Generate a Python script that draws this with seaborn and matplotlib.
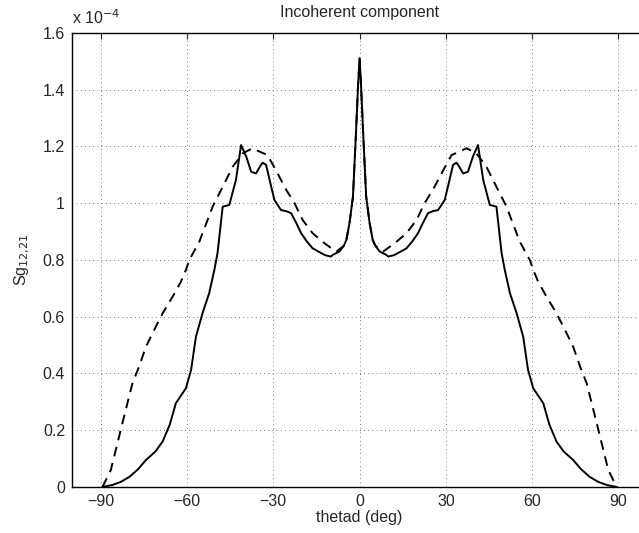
import numpy as np
import pandas as pd
import matplotlib
matplotlib.use("Agg")
import matplotlib.pyplot as plt
import seaborn as sns

# scattering angle (deg) and incoherent component (units of 1e-4)
theta_solid = [-89.5, -86, -83, -80, -77, -74.3, -71, -68.5, -66, -63.9, -60.4, -58.6,
               -56.9, -54.6, -52.3, -50.5, -49.4, -47.6, -45.3, -43.0, -41.2, -39.4,
               -37.7, -36.0, -34.6, -33.7, -32.5, -31, -29.6, -27.3, -25.5, -23.8, -22,
               -20.3, -18.3, -16.3, -14, -12, -10, -9.3, -7, -5.5, -4.6, -3.5, -2.3,
               -1.2, -0.5, 0, 0.5, 1.2, 2.3, 3.5, 4.6, 5.5, 7, 9.3, 10, 12, 14, 16.3,
               18.3, 20.3, 22, 23.8, 25.5, 27.3, 29.6, 31, 32.5, 33.7, 34.6, 36.0, 37.7,
               39.4, 41.2, 43.0, 45.3, 47.6, 49.4, 50.5, 52.3, 54.6, 56.9, 58.6, 60.4,
               63.9, 66, 68.5, 71, 74.3, 77, 80, 83, 86, 89.5]
sigma_solid = [0.0, 0.007, 0.018, 0.036, 0.063, 0.095, 0.125, 0.16, 0.22, 0.295, 0.348,
               0.412, 0.53, 0.613, 0.683, 0.765, 0.824, 0.988, 0.994, 1.082, 1.205, 1.164,
               1.111, 1.105, 1.13, 1.143, 1.135, 1.07, 1.011, 0.976, 0.972, 0.965, 0.93,
               0.894, 0.865, 0.841, 0.828, 0.817, 0.812, 0.818, 0.83, 0.85, 0.870, 0.93,
               1.023, 1.258, 1.42, 1.511, 1.42, 1.258, 1.023, 0.93, 0.870, 0.85, 0.83,
               0.818, 0.812, 0.817, 0.828, 0.841, 0.865, 0.894, 0.93, 0.965, 0.972, 0.976,
               1.011, 1.07, 1.135, 1.143, 1.13, 1.105, 1.111, 1.164, 1.205, 1.082, 0.994,
               0.988, 0.824, 0.765, 0.683, 0.613, 0.53, 0.412, 0.348, 0.295, 0.22, 0.16,
               0.125, 0.095, 0.063, 0.036, 0.018, 0.007, 0.0]

theta_dash = [-89.4, -86.5, -82.5, -79, -76.7, -74.3, -72, -68.5, -65, -62.1, -60.4,
              -59.2, -55.7, -51.1, -47.6, -44.1, -40.6, -37.2, -34.8, -32, -28.5, -25.5,
              -22.6, -19.8, -16.3, -12.2, -8.1, -5.5, -4.6, -3.5, -2.3, -1.2, -0.5, 0,
              0.5, 1.2, 2.3, 3.5, 4.6, 5.5, 8.1, 12.2, 16.3, 19.8, 22.6, 25.5, 28.5, 32,
              34.8, 37.2, 40.6, 44.1, 47.6, 51.1, 55.7, 59.2, 60.4, 62.1, 65, 68.5, 72,
              74.3, 76.7, 79, 82.5, 86.5, 89.4]
sigma_dash = [0.0, 0.06, 0.224, 0.365, 0.424, 0.494, 0.542, 0.612, 0.671, 0.724, 0.765,
              0.8, 0.865, 0.988, 1.058, 1.129, 1.176, 1.194, 1.182, 1.17, 1.105, 1.047,
              1.0, 0.941, 0.894, 0.859, 0.829, 0.85, 0.870, 0.93, 1.023, 1.258, 1.42, 1.511,
              1.42, 1.258, 1.023, 0.93, 0.870, 0.85, 0.829, 0.859, 0.894, 0.941, 1.0,
              1.047, 1.105, 1.17, 1.182, 1.194, 1.176, 1.129, 1.058, 0.988, 0.865, 0.8,
              0.765, 0.724, 0.671, 0.612, 0.542, 0.494, 0.424, 0.365, 0.224, 0.06, 0.0]

x_ticks = [-90, -60, -30, 0, 30, 60, 90]
y_ticks = [0, 0.2, 0.4, 0.6, 0.8, 1.0, 1.2, 1.4, 1.6]

df = pd.concat([
    pd.DataFrame({"theta": theta_solid, "sigma": sigma_solid, "kind": "solid"}),
    pd.DataFrame({"theta": theta_dash, "sigma": sigma_dash, "kind": "dashed"}),
])

sns.set_style("white")
plt.rcParams["font.family"] = ["Liberation Sans", "DejaVu Sans"]
plt.rcParams["xtick.direction"] = "in"
plt.rcParams["ytick.direction"] = "in"

fig = plt.figure(figsize=(6.39, 5.33), dpi=100)
ax = fig.add_axes([0.1127, 0.0863, 0.900, 0.8518])

sns.lineplot(data=df, x="theta", y="sigma", style="kind", color="black",
             dashes={"solid": "", "dashed": (5, 3.5)}, linewidth=1.4,
             sort=False, estimator=None, legend=False, ax=ax)

ax.set_xlim(-100, 100)
ax.set_ylim(0, 1.6)
ax.set_xticks(x_ticks)
ax.set_xticklabels([f"{t}".replace("-", "\u2212") for t in x_ticks])
ax.set_yticks(y_ticks)
ax.set_yticklabels(["0", "0.2", "0.4", "0.6", "0.8", "1", "1.2", "1.4", "1.6"])
ax.tick_params(labelsize=11.5, top=True, right=True, length=4, width=0.8, pad=5)
ax.grid(True, linestyle=(0, (1, 4)), color="black", linewidth=0.6, alpha=0.7)
for s in ax.spines.values():
    s.set_linewidth(1.0)
    s.set_color("black")

ax.set_xlabel("thetad (deg)", fontsize=11.5, labelpad=1)
ax.set_ylabel("Sg$_{12{,}21}$", fontsize=11.5, labelpad=8)
fig.text(360 / 639, 1 - 12 / 533, "Incoherent component", ha="center", va="center",
         fontsize=11.5)
fig.text(72 / 639, 1 - 18 / 533, "x 10$^{-4}$", ha="left", va="center", fontsize=11.5)

fig.savefig("out.png", dpi=100)
